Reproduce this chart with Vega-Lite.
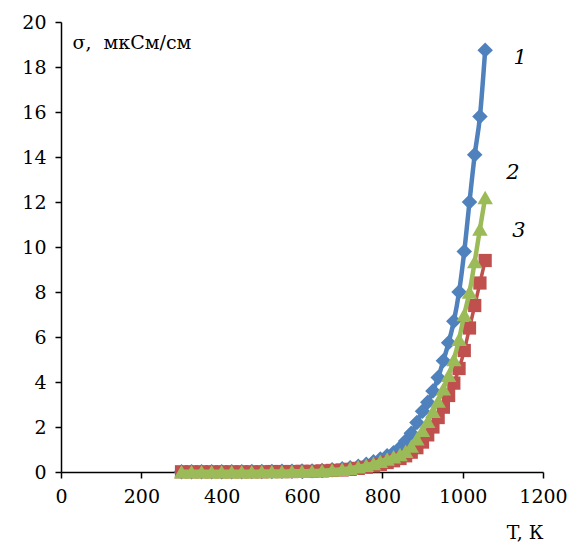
{
  "$schema": "https://vega.github.io/schema/vega-lite/v6.json",
  "autosize": {"type": "none"},
  "width": 482,
  "height": 450,
  "padding": {"left": 61, "top": 22, "right": 28, "bottom": 72},
  "background": "white",
  "config": {
    "view": {"stroke": null},
    "font": "DejaVu Serif"
  },
  "datasets": {
    "sigma": [
      {"T": 300, "s": 0.01, "series": "1"}, {"T": 325, "s": 0.01, "series": "1"}, {"T": 350, "s": 0.01, "series": "1"}, {"T": 375, "s": 0.01, "series": "1"}, {"T": 400, "s": 0.01, "series": "1"}, {"T": 425, "s": 0.01, "series": "1"}, {"T": 450, "s": 0.01, "series": "1"}, {"T": 475, "s": 0.02, "series": "1"}, {"T": 500, "s": 0.02, "series": "1"}, {"T": 525, "s": 0.02, "series": "1"}, {"T": 550, "s": 0.03, "series": "1"}, {"T": 575, "s": 0.03, "series": "1"}, {"T": 600, "s": 0.04, "series": "1"}, {"T": 625, "s": 0.05, "series": "1"}, {"T": 650, "s": 0.07, "series": "1"}, {"T": 675, "s": 0.1, "series": "1"}, {"T": 700, "s": 0.14, "series": "1"}, {"T": 720, "s": 0.19, "series": "1"}, {"T": 740, "s": 0.26, "series": "1"}, {"T": 760, "s": 0.35, "series": "1"}, {"T": 778, "s": 0.46, "series": "1"}, {"T": 795, "s": 0.58, "series": "1"}, {"T": 812, "s": 0.72, "series": "1"}, {"T": 828, "s": 0.86, "series": "1"}, {"T": 844, "s": 1.08, "series": "1"}, {"T": 858, "s": 1.38, "series": "1"}, {"T": 872, "s": 1.72, "series": "1"}, {"T": 886, "s": 2.2, "series": "1"}, {"T": 900, "s": 2.7, "series": "1"}, {"T": 913, "s": 3.1, "series": "1"}, {"T": 926, "s": 3.6, "series": "1"}, {"T": 939, "s": 4.2, "series": "1"}, {"T": 952, "s": 4.95, "series": "1"}, {"T": 965, "s": 5.75, "series": "1"}, {"T": 978, "s": 6.7, "series": "1"}, {"T": 991, "s": 8.0, "series": "1"}, {"T": 1004, "s": 9.8, "series": "1"}, {"T": 1017, "s": 12.0, "series": "1"}, {"T": 1030, "s": 14.1, "series": "1"}, {"T": 1043, "s": 15.8, "series": "1"}, {"T": 1056, "s": 18.75, "series": "1"},
      {"T": 300, "s": 0.01, "series": "2"}, {"T": 325, "s": 0.01, "series": "2"}, {"T": 350, "s": 0.01, "series": "2"}, {"T": 375, "s": 0.01, "series": "2"}, {"T": 400, "s": 0.01, "series": "2"}, {"T": 425, "s": 0.01, "series": "2"}, {"T": 450, "s": 0.01, "series": "2"}, {"T": 475, "s": 0.01, "series": "2"}, {"T": 500, "s": 0.02, "series": "2"}, {"T": 525, "s": 0.02, "series": "2"}, {"T": 550, "s": 0.02, "series": "2"}, {"T": 575, "s": 0.03, "series": "2"}, {"T": 600, "s": 0.03, "series": "2"}, {"T": 625, "s": 0.04, "series": "2"}, {"T": 650, "s": 0.06, "series": "2"}, {"T": 675, "s": 0.09, "series": "2"}, {"T": 700, "s": 0.12, "series": "2"}, {"T": 720, "s": 0.17, "series": "2"}, {"T": 740, "s": 0.23, "series": "2"}, {"T": 760, "s": 0.3, "series": "2"}, {"T": 778, "s": 0.38, "series": "2"}, {"T": 795, "s": 0.48, "series": "2"}, {"T": 812, "s": 0.58, "series": "2"}, {"T": 828, "s": 0.68, "series": "2"}, {"T": 844, "s": 0.78, "series": "2"}, {"T": 858, "s": 0.92, "series": "2"}, {"T": 872, "s": 1.15, "series": "2"}, {"T": 886, "s": 1.48, "series": "2"}, {"T": 900, "s": 1.85, "series": "2"}, {"T": 913, "s": 2.25, "series": "2"}, {"T": 926, "s": 2.7, "series": "2"}, {"T": 939, "s": 3.15, "series": "2"}, {"T": 952, "s": 3.7, "series": "2"}, {"T": 965, "s": 4.3, "series": "2"}, {"T": 978, "s": 5.0, "series": "2"}, {"T": 991, "s": 5.9, "series": "2"}, {"T": 1004, "s": 7.0, "series": "2"}, {"T": 1017, "s": 8.0, "series": "2"}, {"T": 1030, "s": 9.35, "series": "2"}, {"T": 1043, "s": 10.8, "series": "2"}, {"T": 1056, "s": 12.2, "series": "2"},
      {"T": 300, "s": 0.01, "series": "3"}, {"T": 325, "s": 0.01, "series": "3"}, {"T": 350, "s": 0.01, "series": "3"}, {"T": 375, "s": 0.01, "series": "3"}, {"T": 400, "s": 0.01, "series": "3"}, {"T": 425, "s": 0.01, "series": "3"}, {"T": 450, "s": 0.01, "series": "3"}, {"T": 475, "s": 0.01, "series": "3"}, {"T": 500, "s": 0.01, "series": "3"}, {"T": 525, "s": 0.02, "series": "3"}, {"T": 550, "s": 0.02, "series": "3"}, {"T": 575, "s": 0.02, "series": "3"}, {"T": 600, "s": 0.03, "series": "3"}, {"T": 625, "s": 0.03, "series": "3"}, {"T": 650, "s": 0.05, "series": "3"}, {"T": 675, "s": 0.07, "series": "3"}, {"T": 700, "s": 0.09, "series": "3"}, {"T": 720, "s": 0.12, "series": "3"}, {"T": 740, "s": 0.16, "series": "3"}, {"T": 760, "s": 0.21, "series": "3"}, {"T": 778, "s": 0.27, "series": "3"}, {"T": 795, "s": 0.34, "series": "3"}, {"T": 812, "s": 0.42, "series": "3"}, {"T": 828, "s": 0.5, "series": "3"}, {"T": 844, "s": 0.6, "series": "3"}, {"T": 858, "s": 0.72, "series": "3"}, {"T": 872, "s": 0.88, "series": "3"}, {"T": 886, "s": 1.08, "series": "3"}, {"T": 900, "s": 1.33, "series": "3"}, {"T": 913, "s": 1.65, "series": "3"}, {"T": 926, "s": 2.0, "series": "3"}, {"T": 939, "s": 2.42, "series": "3"}, {"T": 952, "s": 2.88, "series": "3"}, {"T": 965, "s": 3.4, "series": "3"}, {"T": 978, "s": 3.95, "series": "3"}, {"T": 991, "s": 4.6, "series": "3"}, {"T": 1004, "s": 5.4, "series": "3"}, {"T": 1017, "s": 6.4, "series": "3"}, {"T": 1030, "s": 7.4, "series": "3"}, {"T": 1043, "s": 8.4, "series": "3"}, {"T": 1056, "s": 9.4, "series": "3"}
    ],
    "labels": [
      {"T": 1143, "s": 18.4, "label": "1"},
      {"T": 1125, "s": 13.3, "label": "2"},
      {"T": 1140, "s": 10.7, "label": "3"}
    ]
  },
  "encoding": {
    "x": {
      "field": "T", "type": "quantitative",
      "scale": {"domain": [0, 1200], "nice": false},
      "axis": {
        "values": [0, 200, 400, 600, 800, 1000, 1200],
        "format": "d",
        "grid": false,
        "labelFlush": false,
        "labelOverlap": false,
        "domainColor": "#000000",
        "domainWidth": 1.5,
        "tickColor": "#000000",
        "tickWidth": 1.5,
        "tickSize": 6,
        "labelFont": "DejaVu Serif",
        "labelFontSize": 19,
        "labelColor": "#000000",
        "labelPadding": 9,
        "title": "T, К",
        "titleFont": "DejaVu Serif",
        "titleFontSize": 19,
        "titleFontWeight": "normal",
        "titleColor": "#000000",
        "titleAnchor": "end",
        "titleAlign": "right",
        "titleBaseline": "alphabetic",
        "titleX": 482,
        "titleY": 66
      }
    },
    "y": {
      "field": "s", "type": "quantitative",
      "scale": {"domain": [0, 20], "nice": false},
      "axis": {
        "values": [0, 2, 4, 6, 8, 10, 12, 14, 16, 18, 20],
        "format": "d",
        "grid": false,
        "labelFlush": false,
        "labelOverlap": false,
        "domainColor": "#000000",
        "domainWidth": 1.5,
        "tickColor": "#000000",
        "tickWidth": 1.5,
        "tickSize": 6,
        "labelFont": "DejaVu Serif",
        "labelFontSize": 19,
        "labelColor": "#000000",
        "labelPadding": 9,
        "title": "σ, \u00a0мкСм/см",
        "titleFont": "DejaVu Serif",
        "titleFontSize": 19,
        "titleFontWeight": "normal",
        "titleColor": "#000000",
        "titleAngle": 0,
        "titleAlign": "left",
        "titleBaseline": "middle",
        "titleX": 11,
        "titleY": 20
      }
    }
  },
  "layer": [
    {
      "data": {"name": "sigma"},
      "transform": [{"filter": "datum.series === '1'"}],
      "mark": {"type": "line", "color": "#4F81BD", "strokeWidth": 4.5, "interpolate": "monotone",
        "point": {"shape": "diamond", "size": 240, "filled": true, "color": "#4F81BD", "opacity": 1}}
    },
    {
      "data": {"name": "sigma"},
      "transform": [{"filter": "datum.series === '3'"}],
      "mark": {"type": "line", "color": "#C0504D", "strokeWidth": 3.5, "interpolate": "monotone",
        "point": {"shape": "square", "size": 175, "filled": true, "color": "#C0504D", "opacity": 1}}
    },
    {
      "data": {"name": "sigma"},
      "transform": [{"filter": "datum.series === '2'"}],
      "mark": {"type": "line", "color": "#9BBB59", "strokeWidth": 4.5, "interpolate": "monotone",
        "point": {"shape": "triangle-up", "size": 240, "filled": true, "color": "#9BBB59", "opacity": 1}}
    },
    {
      "data": {"name": "labels"},
      "mark": {"type": "text", "font": "DejaVu Serif", "fontStyle": "italic", "fontSize": 21, "color": "#000000", "align": "center", "baseline": "middle"},
      "encoding": {"text": {"field": "label"}}
    }
  ]
}
